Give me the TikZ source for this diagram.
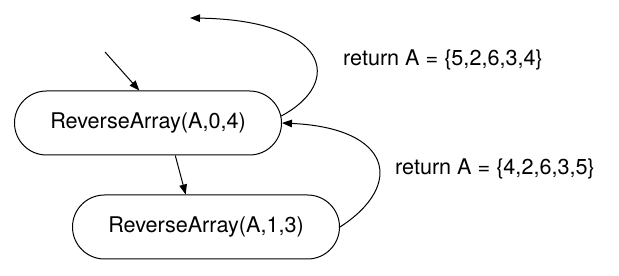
\documentclass[tikz,border=0pt]{standalone}
\usepackage{fontspec}
\setmainfont{TeX Gyre Heros}
\usepackage{tikz}
\usetikzlibrary{shapes.misc}
\usetikzlibrary{arrows.meta}

\begin{document}
\begin{tikzpicture}[x=0.5pt, y=-0.5pt, line width=0.5pt, >={Triangle[length=5pt,width=3.8pt]},
	call/.style={rounded rectangle, draw, minimum width=133.5pt, minimum height=32pt, inner sep=0pt, font=\fontsize{10.8}{13}\selectfont},
	ret/.style={font=\fontsize{10.8}{13}\selectfont}]

	\useasboundingbox (0,0) rectangle (619,276);

	% recursive calls
	\node[call] (C1) at (148,123) {ReverseArray(A,0,4)};
	\node[call] (C2) at (206,227) {ReverseArray(A,1,3)};

	\coordinate (In) at (105,52);
	\coordinate (Out) at (190,18);

	\draw[->] (In) -- (C1.105);
	\draw[->] (C1.-50) -- (C2.122);

	% returns
	\draw[->] (C2.east) .. controls (405,185) and (392,128) .. (C1.east);
	\draw[->] (C1.3) .. controls (345,82) and (328,20) .. (Out);

	\node[ret] (R1) at (443,60) {return A = \{5,2,6,3,4\}};
	\node[ret] (R2) at (495,169) {return A = \{4,2,6,3,5\}};

\end{tikzpicture}
\end{document}
